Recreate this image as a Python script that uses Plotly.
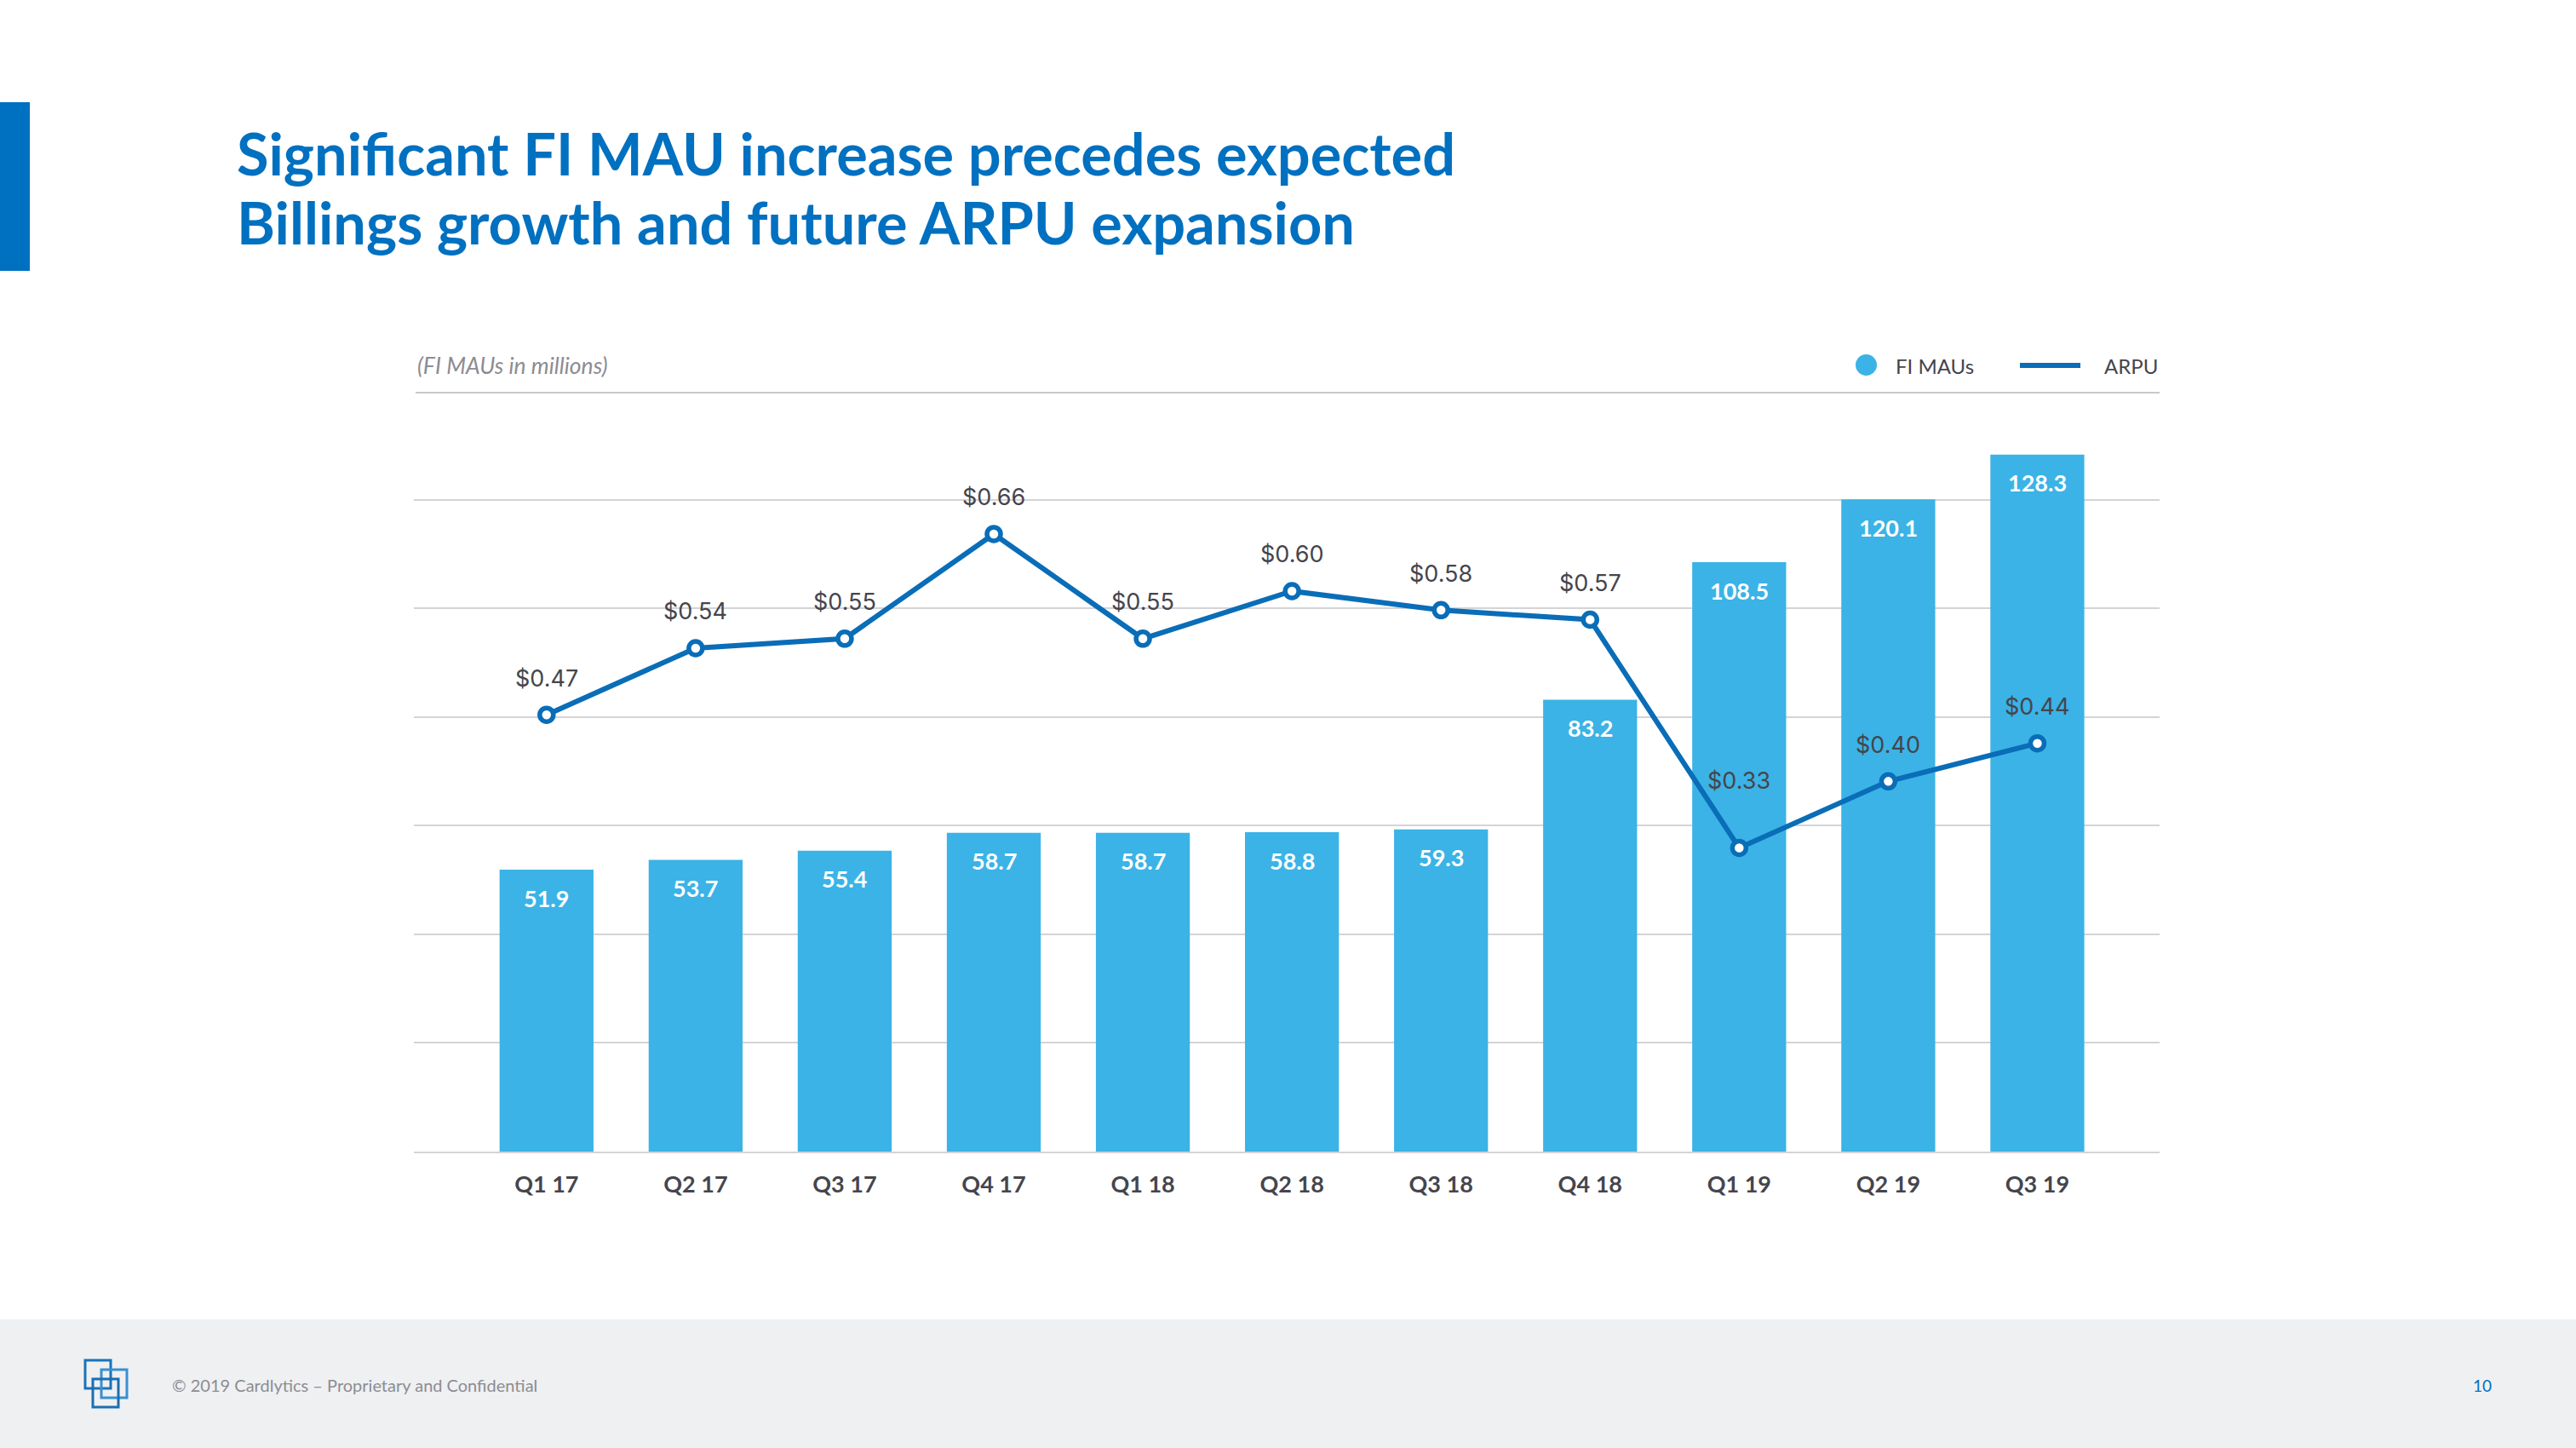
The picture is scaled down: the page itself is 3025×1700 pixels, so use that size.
import plotly.graph_objects as go

# ---- data ----
quarters = ["Q1 17", "Q2 17", "Q3 17", "Q4 17", "Q1 18", "Q2 18", "Q3 18", "Q4 18", "Q1 19", "Q2 19", "Q3 19"]
fi_maus = [51.9, 53.7, 55.4, 58.7, 58.7, 58.8, 59.3, 83.2, 108.5, 120.1, 128.3]
arpu = [0.47, 0.54, 0.55, 0.66, 0.55, 0.60, 0.58, 0.57, 0.33, 0.40, 0.44]

title_lines = ["Significant FI MAU increase precedes expected", "Billings growth and future ARPU expansion"]
subtitle = "(FI MAUs in millions)"
footer_text = "© 2019 Cardlytics – Proprietary and Confidential"
page_no = "10"

# ---- layout geometry (pixels) ----
W, H = 3025, 1700
L, R, T, B = 486, 2536, 523, 1352

def px(x):
    return (x - L) / (R - L)

def py(y):
    return (B - y) / (B - T)

BAR = "#3bb3e6"
LINE = "#0a6db7"
BLUE = "#0070c0"
DARK = "#45454d"
GREY = "#8c8c92"
GRID = "#d4d4d6"

fig = go.Figure()
fig.add_trace(go.Bar(x=quarters, y=fi_maus, marker_color=BAR, marker_line_width=0,
                     width=0.63, name="FI MAUs", showlegend=False))
fig.add_trace(go.Scatter(x=quarters, y=arpu, yaxis="y2", mode="lines+markers", name="ARPU",
                         line=dict(color=LINE, width=6),
                         marker=dict(size=16, color="white", line=dict(color=LINE, width=5.5)),
                         showlegend=False))

ann = []
for q, v in zip(quarters, fi_maus):
    ann.append(dict(x=q, y=v, xref="x", yref="y", text=f"{v:.1f}", showarrow=False,
                    yshift=-33, yanchor="middle",
                    font=dict(family="Lato", size=27, color="white", weight="bold")))
for i, (q, v) in enumerate(zip(quarters, arpu)):
    # the steep drop point gets its label lifted clear of the incoming line
    shift = 79 if (i > 0 and v < arpu[i - 1] - 0.2) else 43
    ann.append(dict(x=q, y=v, xref="x", yref="y2", text=f"${v:.2f}", showarrow=False,
                    yshift=shift, yanchor="middle",
                    font=dict(family="Inter", size=27, color=DARK)))

# title
for k, line in enumerate(title_lines):
    ann.append(dict(x=px(276), y=py(179 + 81 * k), xref="paper", yref="paper", text=f"<b>{line}</b>",
                    showarrow=False, xanchor="left", yanchor="middle",
                    font=dict(family="Lato", size=68.5, color=BLUE)))
# subtitle
ann.append(dict(x=px(488), y=py(429), xref="paper", yref="paper", text=f"<i>{subtitle}</i>",
                showarrow=False, xanchor="left", yanchor="middle",
                font=dict(family="Lato", size=26.5, color=GREY)))
# legend texts
ann.append(dict(x=px(2224), y=py(429), xref="paper", yref="paper", text="FI MAUs",
                showarrow=False, xanchor="left", yanchor="middle",
                font=dict(family="Lato", size=24, color=DARK)))
ann.append(dict(x=px(2469), y=py(429), xref="paper", yref="paper", text="ARPU",
                showarrow=False, xanchor="left", yanchor="middle",
                font=dict(family="Lato", size=24, color=DARK)))
# footer
ann.append(dict(x=px(200), y=py(1626), xref="paper", yref="paper", text=footer_text,
                showarrow=False, xanchor="left", yanchor="middle",
                font=dict(family="Lato", size=20, color=GREY)))
ann.append(dict(x=px(2915), y=py(1626), xref="paper", yref="paper", text=page_no,
                showarrow=False, xanchor="center", yanchor="middle",
                font=dict(family="Lato", size=19, color=BLUE)))

shapes = []
# footer band
shapes.append(dict(type="rect", xref="paper", yref="paper", x0=px(0), x1=px(W), y0=py(1549), y1=py(H),
                   fillcolor="#eff0f2", line_width=0, layer="below"))
# left accent bar
shapes.append(dict(type="rect", xref="paper", yref="paper", x0=px(0), x1=px(35), y0=py(120), y1=py(318),
                   fillcolor=BLUE, line_width=0))
# separator line
shapes.append(dict(type="line", xref="paper", yref="paper", x0=px(488), x1=px(2536), y0=py(461), y1=py(461),
                   line=dict(color="#c8c8ca", width=2)))
# legend marks
shapes.append(dict(type="circle", xref="paper", yref="paper", x0=px(2179), x1=px(2204), y0=py(416), y1=py(441),
                   fillcolor=BAR, line_width=0))
shapes.append(dict(type="line", xref="paper", yref="paper", x0=px(2372), x1=px(2443), y0=py(429), y1=py(429),
                   line=dict(color=LINE, width=6)))
# logo (three overlapping squares)
for (ox, oy, c) in [(100, 1597, "#1a73b8"), (119, 1608, "#3b8fd0"), (109, 1619, "#1a6fb2")]:
    shapes.append(dict(type="rect", xref="paper", yref="paper", x0=px(ox), x1=px(ox + 30),
                       y0=py(oy), y1=py(oy + 33), line=dict(color=c, width=3), fillcolor="rgba(0,0,0,0)"))

fig.update_layout(
    width=W, height=H,
    margin=dict(l=L, r=W - R, t=T, b=H - B, pad=0),
    paper_bgcolor="white", plot_bgcolor="white",
    showlegend=False,
    bargap=0.37,
    annotations=ann, shapes=shapes,
    xaxis=dict(type="category", range=[-0.89, 10.82], showgrid=False, zeroline=False,
               showline=True, linecolor=GRID, linewidth=2, ticks="",
               ticklabelstandoff=14,
               tickfont=dict(family="Lato", size=27, color=DARK, weight="bold")),
    yaxis=dict(range=[0, 130], dtick=20, showgrid=True, gridcolor=GRID, gridwidth=2,
               zeroline=False, showticklabels=False, ticks=""),
    yaxis2=dict(range=[0.0108, 0.7531], overlaying="y", side="right", visible=False,
                showgrid=False, zeroline=False),
)

fig.write_html("out.html", config={"displayModeBar": False},
               post_script="document.body.style.margin='0px';document.body.style.overflow='hidden';")
